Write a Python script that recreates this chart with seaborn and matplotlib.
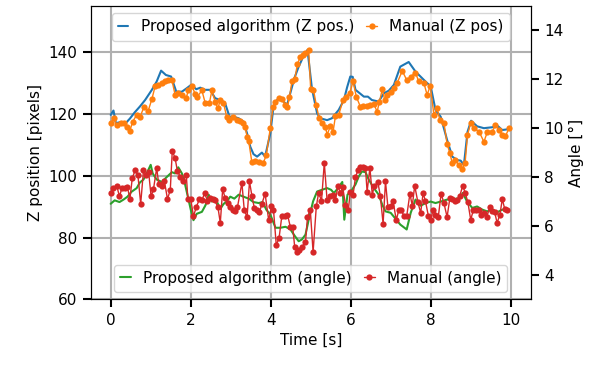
import matplotlib
matplotlib.use("Agg")
import matplotlib.pyplot as plt
import seaborn as sns
import pandas as pd

# --- Z position: proposed algorithm ---
t_z_auto = [0.00, 0.07, 0.13, 0.25, 0.36, 0.48, 0.60, 0.73, 0.86, 1.03, 1.15, 1.26, 1.38, 1.51,
            1.64, 1.78, 1.90, 2.01, 2.14, 2.24, 2.36, 2.49, 2.61, 2.74, 2.86, 2.97, 3.07, 3.20,
            3.32, 3.41, 3.49, 3.57, 3.66, 3.78, 3.86, 3.99, 4.07, 4.16, 4.28, 4.41, 4.49, 4.59,
            4.70, 4.82, 4.92, 5.03, 5.16, 5.24, 5.41, 5.53, 5.70, 5.83, 5.91, 5.99, 6.05, 6.12,
            6.33, 6.43, 6.53, 6.70, 6.83, 6.95, 7.08, 7.24, 7.45, 7.62, 7.83, 8.00, 8.12, 8.25,
            8.41, 8.54, 8.66, 8.75, 8.83, 8.92, 9.01, 9.16, 9.33, 9.54, 9.66, 9.79, 9.96]
z_auto = [119.7, 121.1, 117.0, 117.4, 116.8, 118.5, 120.5, 122.4, 124.5, 127.8, 130.5, 134.0, 132.6, 132.1,
          127.2, 127.2, 128.3, 129.4, 128.0, 128.5, 127.8, 127.8, 125.1, 124.5, 123.5, 119.1, 119.1, 118.6,
          117.5, 113.7, 109.4, 107.0, 106.2, 107.5, 106.2, 113.7, 122.4, 124.5, 124.5, 122.9, 126.7, 131.5,
          135.3, 138.7, 140.7, 128.3, 120.2, 118.6, 118.0, 118.6, 121.3, 124.5, 128.6, 132.1, 132.0, 127.8,
          125.6, 125.6, 124.5, 124.0, 126.7, 127.5, 129.4, 135.3, 136.8, 133.7, 131.0, 128.9, 121.3, 119.1,
          111.6, 106.2, 105.1, 104.9, 103.5, 114.2, 117.8, 116.0, 115.4, 115.7, 116.3, 114.8, 115.1]

# --- Z position: manual annotation ---
t_z_manual = [0.00, 0.08, 0.15, 0.25, 0.34, 0.42, 0.48, 0.55, 0.65, 0.73, 0.83, 0.94, 1.03, 1.11,
              1.19, 1.28, 1.36, 1.44, 1.53, 1.61, 1.69, 1.78, 1.89, 1.94, 2.03, 2.11, 2.17, 2.28,
              2.36, 2.47, 2.53, 2.61, 2.68, 2.74, 2.82, 2.90, 2.97, 3.07, 3.16, 3.24, 3.32, 3.36,
              3.41, 3.45, 3.53, 3.61, 3.70, 3.81, 3.89, 3.99, 4.06, 4.12, 4.21, 4.28, 4.37, 4.42,
              4.47, 4.53, 4.60, 4.67, 4.74, 4.82, 4.87, 4.95, 5.00, 5.07, 5.14, 5.21, 5.28, 5.37,
              5.41, 5.49, 5.56, 5.62, 5.70, 5.81, 5.89, 5.98, 6.06, 6.14, 6.24, 6.32, 6.40, 6.48,
              6.58, 6.66, 6.72, 6.79, 6.85, 6.91, 7.00, 7.08, 7.16, 7.29, 7.40, 7.50, 7.62, 7.70,
              7.83, 7.91, 7.99, 8.08, 8.16, 8.23, 8.33, 8.41, 8.48, 8.54, 8.62, 8.70, 8.79, 8.86,
              8.92, 9.00, 9.08, 9.21, 9.33, 9.42, 9.54, 9.62, 9.71, 9.79, 9.87, 9.96]
z_manual = [117.0, 118.6, 116.4, 117.2, 117.2, 115.7, 114.6, 117.5, 119.7, 118.9, 122.2, 121.1, 124.8, 128.9,
            129.4, 130.0, 130.5, 131.0, 131.0, 126.2, 126.7, 126.2, 125.1, 127.8, 129.1, 126.5, 125.6, 127.6,
            123.7, 123.7, 127.6, 124.0, 121.8, 124.5, 123.5, 119.1, 118.0, 118.9, 118.0, 117.8, 117.0, 115.9,
            112.6, 111.3, 104.3, 104.8, 104.3, 104.0, 106.7, 115.4, 122.2, 124.0, 125.1, 124.8, 122.9, 122.4,
            125.4, 130.5, 131.2, 136.2, 138.4, 139.1, 139.7, 140.7, 128.0, 127.8, 122.9, 118.6, 117.2, 115.9,
            113.2, 116.1, 114.3, 119.4, 119.7, 124.5, 125.6, 126.9, 130.5, 125.6, 122.4, 122.6, 122.7, 123.0,
            123.3, 120.7, 124.0, 128.0, 124.6, 126.2, 127.2, 128.3, 130.0, 133.9, 131.0, 132.0, 133.4, 130.5,
            130.0, 126.2, 129.1, 119.7, 121.8, 118.0, 117.2, 110.3, 107.3, 104.0, 105.0, 103.5, 102.1, 104.2,
            113.2, 117.2, 115.4, 114.3, 111.0, 114.3, 114.3, 116.4, 114.8, 113.2, 112.9, 115.4]

# --- Angle: proposed algorithm ---
t_ang_auto = [0.00, 0.10, 0.22, 0.32, 0.42, 0.52, 0.65, 0.73, 0.82, 0.90, 1.00, 1.05, 1.15, 1.28,
              1.40, 1.53, 1.61, 1.69, 1.78, 1.86, 1.95, 2.03, 2.07, 2.15, 2.28, 2.37, 2.45, 2.53,
              2.61, 2.74, 2.82, 2.90, 2.99, 3.09, 3.20, 3.32, 3.45, 3.57, 3.70, 3.80, 3.89, 3.99,
              4.12, 4.24, 4.37, 4.49, 4.60, 4.70, 4.78, 4.87, 4.95, 5.06, 5.16, 5.28, 5.41, 5.51,
              5.58, 5.66, 5.79, 5.84, 5.92, 6.02, 6.12, 6.20, 6.28, 6.37, 6.45, 6.58, 6.70, 6.79,
              6.87, 7.00, 7.12, 7.24, 7.40, 7.50, 7.62, 7.75, 7.87, 8.00, 8.12, 8.25, 8.41, 8.58,
              8.75, 8.80, 8.91, 9.04, 9.16, 9.29, 9.41, 9.54, 9.66, 9.79, 9.92]
ang_auto = [6.91, 7.05, 6.98, 7.08, 7.20, 7.40, 7.55, 7.78, 7.90, 8.15, 8.50, 8.15, 7.90, 7.80,
            8.00, 8.20, 8.15, 8.40, 8.15, 7.70, 7.05, 6.47, 6.24, 6.50, 6.58, 6.85, 7.28, 7.00,
            7.15, 6.70, 6.90, 7.00, 7.20, 7.12, 7.28, 7.20, 7.12, 6.98, 6.94, 6.98, 6.67, 6.47,
            5.93, 5.93, 5.97, 5.87, 5.60, 5.38, 5.45, 5.65, 6.26, 7.01, 7.41, 7.48, 7.55, 7.48,
            7.35, 7.50, 7.80, 6.26, 7.28, 7.45, 7.70, 8.02, 8.23, 8.20, 7.90, 7.55, 7.28, 6.87,
            6.60, 6.54, 6.30, 6.06, 5.86, 6.54, 7.08, 6.83, 6.94, 7.00, 6.94, 7.00, 7.08, 7.10,
            7.15, 7.35, 7.00, 6.74, 6.80, 6.67, 6.60, 6.67, 6.56, 6.67, 6.64]

# --- Angle: manual annotation ---
t_ang_manual = [0.00, 0.07, 0.15, 0.22, 0.28, 0.36, 0.42, 0.48, 0.54, 0.61, 0.68, 0.75, 0.82, 0.88,
                0.95, 1.01, 1.07, 1.15, 1.20, 1.28, 1.34, 1.42, 1.49, 1.54, 1.61, 1.67, 1.74, 1.80,
                1.89, 1.93, 2.00, 2.07, 2.14, 2.22, 2.28, 2.35, 2.42, 2.49, 2.55, 2.60, 2.68, 2.74,
                2.80, 2.86, 2.93, 2.99, 3.05, 3.11, 3.17, 3.28, 3.34, 3.41, 3.47, 3.53, 3.59, 3.66,
                3.72, 3.78, 3.86, 3.95, 4.02, 4.07, 4.14, 4.21, 4.28, 4.35, 4.42, 4.49, 4.55, 4.60,
                4.66, 4.72, 4.78, 4.87, 4.92, 4.99, 5.06, 5.14, 5.20, 5.27, 5.34, 5.41, 5.49, 5.55,
                5.62, 5.68, 5.74, 5.80, 5.87, 5.94, 5.99, 6.06, 6.12, 6.18, 6.24, 6.31, 6.37, 6.41,
                6.48, 6.54, 6.59, 6.68, 6.74, 6.81, 6.87, 6.93, 7.00, 7.06, 7.14, 7.20, 7.26, 7.33,
                7.40, 7.48, 7.54, 7.60, 7.68, 7.75, 7.81, 7.87, 7.94, 8.00, 8.06, 8.12, 8.19, 8.26,
                8.33, 8.41, 8.48, 8.54, 8.60, 8.66, 8.73, 8.80, 8.86, 8.93, 9.00, 9.07, 9.13, 9.20,
                9.27, 9.33, 9.40, 9.48, 9.54, 9.60, 9.66, 9.73, 9.79, 9.85, 9.92]
ang_manual = [7.37, 7.55, 7.65, 7.21, 7.55, 7.55, 7.59, 7.10, 7.96, 8.27, 8.09, 6.91, 8.27, 8.09,
              8.19, 7.21, 7.51, 8.37, 7.73, 7.62, 7.86, 7.10, 7.48, 9.08, 8.77, 8.23, 8.02, 7.82,
              8.09, 7.10, 7.10, 6.40, 6.78, 7.10, 7.05, 7.35, 7.01, 7.15, 7.10, 7.05, 6.78, 6.13,
              7.51, 7.15, 6.94, 6.78, 6.67, 6.60, 6.78, 7.76, 6.64, 6.37, 7.82, 7.24, 6.74, 6.64,
              6.56, 6.91, 7.32, 6.24, 6.80, 6.67, 5.21, 5.52, 6.43, 6.43, 6.47, 5.97, 5.97, 5.15,
              4.93, 5.02, 5.15, 5.34, 6.37, 6.67, 4.93, 6.80, 7.37, 7.01, 8.59, 7.05, 7.21, 7.28,
              7.08, 7.62, 7.37, 7.59, 6.87, 6.64, 7.41, 7.28, 8.00, 8.27, 8.41, 8.43, 8.37, 7.41,
              8.37, 7.28, 7.65, 7.78, 7.24, 6.10, 7.82, 6.78, 6.80, 7.01, 6.24, 6.64, 6.64, 6.43,
              6.40, 7.32, 6.83, 7.65, 6.97, 6.54, 7.35, 7.01, 6.43, 6.24, 6.67, 6.47, 6.37, 7.32,
              6.94, 6.37, 7.15, 7.10, 7.01, 7.05, 7.24, 7.65, 7.37, 6.97, 6.26, 6.67, 6.64, 6.67,
              6.47, 6.54, 6.37, 6.78, 6.60, 6.56, 6.13, 6.47, 7.10, 6.70, 6.64]

x_ticks = [0, 2, 4, 6, 8, 10]
z_ticks = [60, 80, 100, 120, 140]
ang_ticks = [4, 6, 8, 10, 12, 14]

sns.set_style("ticks", {
    "axes.edgecolor": "black",
    "axes.linewidth": 1.5,
    "xtick.color": "black",
    "ytick.color": "black",
    "text.color": "black",
    "axes.labelcolor": "black",
})
plt.rcParams.update({
    "font.family": ["DejaVu Sans"],
    "font.size": 11,
    "axes.labelsize": 11,
    "xtick.labelsize": 11,
    "ytick.labelsize": 11,
    "legend.fontsize": 11,
    "xtick.major.size": 6,
    "ytick.major.size": 6,
    "xtick.major.width": 1.5,
    "ytick.major.width": 1.5,
})

df_z_auto = pd.DataFrame({"t": t_z_auto, "z": z_auto})
df_z_manual = pd.DataFrame({"t": t_z_manual, "z": z_manual})
df_a_auto = pd.DataFrame({"t": t_ang_auto, "a": ang_auto})
df_a_manual = pd.DataFrame({"t": t_ang_manual, "a": ang_manual})

fig = plt.figure(figsize=(6.07, 3.66), dpi=100)
ax = fig.add_axes([0.1494, 0.1817, 0.7249, 0.8027])
ax2 = ax.twinx()

blue, orange, green, red = "#1f77b4", "#ff7f0e", "#2ca02c", "#d62728"

sns.lineplot(data=df_z_auto, x="t", y="z", ax=ax, color=blue, lw=1.5,
             label="Proposed algorithm (Z pos.)", estimator=None, sort=False, legend=False)
sns.lineplot(data=df_z_manual, x="t", y="z", ax=ax, color=orange, lw=1.0,
             marker="o", markersize=4.5, markeredgewidth=0,
             label="Manual (Z pos)", estimator=None, sort=False, legend=False)

sns.lineplot(data=df_a_auto, x="t", y="a", ax=ax2, color=green, lw=1.5,
             label="Proposed algorithm (angle)", estimator=None, sort=False, legend=False)
sns.lineplot(data=df_a_manual, x="t", y="a", ax=ax2, color=red, lw=1.0,
             marker="o", markersize=4.5, markeredgewidth=0,
             label="Manual (angle)", estimator=None, sort=False, legend=False)

ax.set_xlim(-0.5, 10.5)
ax.set_ylim(60, 155)
ax2.set_ylim(3, 15)
ax.set_xticks(x_ticks)
ax.set_yticks(z_ticks)
ax2.set_yticks(ang_ticks)

ax.grid(True, color="#b0b0b0", lw=1.5)
ax2.grid(False)
ax.set_axisbelow(True)

ax.set_xlabel("Time [s]")
ax.set_ylabel("Z position [pixels]")
ax2.set_ylabel("Angle [°]")

h1, l1 = ax.get_legend_handles_labels()
ax.legend(h1, l1, loc="upper center", ncol=2, handlelength=0.7,
          columnspacing=0.8, handletextpad=0.8)
h2, l2 = ax2.get_legend_handles_labels()
ax2.legend(h2, l2, loc="lower center", ncol=2, handlelength=0.7,
           columnspacing=0.8, handletextpad=0.8)

fig.savefig("out.png", dpi=100)
